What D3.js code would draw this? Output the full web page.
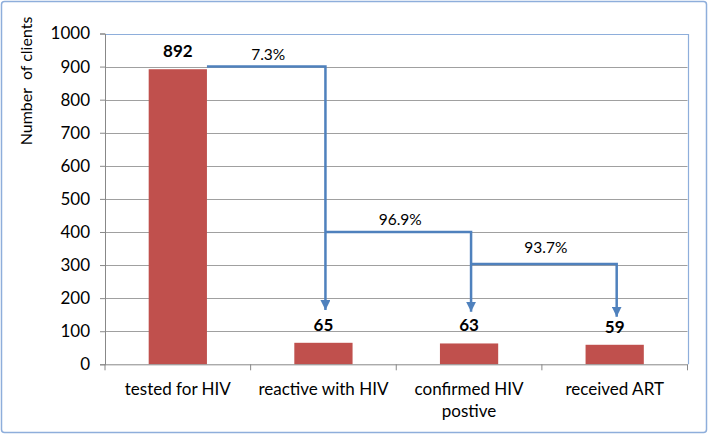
<!DOCTYPE html>
<html><head><meta charset="utf-8">
<script src="https://cdn.jsdelivr.net/npm/d3@7"></script>
<style>
body{margin:0;background:#fff;}
text{font-family:Lato,"Open Sans",sans-serif;fill:#000;}
</style></head>
<body><svg id="c" width="709" height="436"></svg>
<script>
const categories = ["tested for HIV","reactive with HIV","confirmed HIV|postive","received ART"];
const values = [892,65,63,59];
const yTicks = [0,100,200,300,400,500,600,700,800,900,1000];
// arrows: from category, to category, level of horizontal segment, arrow tip value, label, label value
const arrowFrom = [0,1,2];
const arrowTo = [1,2,3];
const arrowLevel = [900,400,303];
const arrowTip = [164,159,144];
const arrowLabels = ["7.3%","96.9%","93.7%"];
const arrowLabelLevel = [936,436,352];

const svg = d3.select("#c");
const m = {l:105,r:709-687.5,t:33.5,b:436-364.3};
const W = 709, H = 436;
const x = d3.scaleBand().domain(d3.range(categories.length)).range([m.l, W-m.r]).paddingInner(0.6).paddingOuter(0.3);
const xb = d3.scaleBand().domain(d3.range(categories.length)).range([m.l, W-m.r]);
const y = d3.scaleLinear().domain([0,1000]).range([H-m.b, m.t]);

// outer frame
svg.append("rect").attr("x",1.5).attr("y",1.5).attr("width",705).attr("height",431).attr("rx",3)
  .attr("fill","#fff").attr("stroke","#8eaedb").attr("stroke-width",1.5);

// gridlines
svg.append("g").selectAll("line").data(yTicks.filter(d=>d>0&&d<1000)).join("line")
  .attr("x1",m.l).attr("x2",W-m.r).attr("y1",d=>Math.round(y(d))+0.5).attr("y2",d=>Math.round(y(d))+0.5)
  .attr("stroke","#a0a0a0").attr("stroke-width",1);
// plot-area border top/right
svg.append("path").attr("d",`M${m.l},${Math.round(y(1000))+0.5}H${Math.round(W-m.r)+0.5}V${y(0)}`)
  .attr("fill","none").attr("stroke","#8eaedb").attr("stroke-width",1.2);

// bars
svg.append("g").selectAll("rect").data(values).join("rect")
  .attr("x",(d,i)=>x(i)).attr("width",x.bandwidth())
  .attr("y",d=>y(d)).attr("height",d=>y(0)-y(d)).attr("fill","#c0504d");

// y axis
const ya = svg.append("g").attr("transform",`translate(${m.l},0)`)
  .call(d3.axisLeft(y).tickValues(yTicks).tickFormat(d3.format("d")).tickSize(5).tickPadding(10));
ya.select(".domain").attr("stroke","#888");
ya.selectAll(".tick line").attr("stroke","#888");
ya.selectAll("text").attr("font-size",17).attr("font-family","Lato").attr("fill","#000");

// x axis
const xa = svg.append("g").attr("transform",`translate(0,${y(0)})`);
xa.append("line").attr("x1",m.l).attr("x2",W-m.r).attr("y1",0.5).attr("y2",0.5).attr("stroke","#888");
xa.selectAll("line.t").data(d3.range(categories.length+1)).join("line").attr("class","t")
  .attr("x1",i=>i<categories.length?xb(i):W-m.r).attr("x2",i=>i<categories.length?xb(i):W-m.r)
  .attr("y1",0).attr("y2",6).attr("stroke","#888");
xa.selectAll("text").data(categories).join("text")
  .attr("text-anchor","middle").attr("font-size",17)
  .attr("transform",(d,i)=>`translate(${xb(i)+xb.bandwidth()/2},0)`)
  .each(function(d){
    const t=d3.select(this);
    d.split("|").forEach((s,k)=>t.append("tspan").attr("x",0).attr("y",31+k*22).text(s));
  });

// value labels
svg.append("g").selectAll("text").data(values).join("text")
  .attr("x",(d,i)=>x(i)+x.bandwidth()/2).attr("y",d=>y(d)-12)
  .attr("text-anchor","middle").attr("font-size",17).attr("font-weight","bold").text(d=>d);

// arrows
const blue = "#4f81bd";
svg.append("defs").append("marker").attr("id","ah").attr("viewBox","0 0 10 10")
  .attr("refX",10).attr("refY",5).attr("markerWidth",10).attr("markerHeight",10)
  .attr("markerUnits","userSpaceOnUse").attr("orient","auto")
  .append("path").attr("d","M0,0L10,5L0,10z").attr("fill",blue);
const cx = i => x(i)+x.bandwidth()/2 + 2;
arrowFrom.forEach((f,k)=>{
  const x0 = k===0 ? x(f)+x.bandwidth() : cx(f);
  const x1 = cx(arrowTo[k]);
  svg.append("path").attr("d",`M${x0},${y(arrowLevel[k])}H${x1}V${y(arrowTip[k])}`)
    .attr("fill","none").attr("stroke",blue).attr("stroke-width",2.5).attr("marker-end","url(#ah)");
  svg.append("text").attr("x",(x0+x1)/2+2).attr("y",y(arrowLabelLevel[k])+5)
    .attr("text-anchor","middle").attr("font-size",15.5).text(arrowLabels[k]);
});

// y title
svg.append("text").attr("transform","translate(32,81) rotate(-90)").attr("text-anchor","middle")
  .attr("font-size",16).attr("xml:space","preserve").text("Number  of clients");
</script></body></html>
